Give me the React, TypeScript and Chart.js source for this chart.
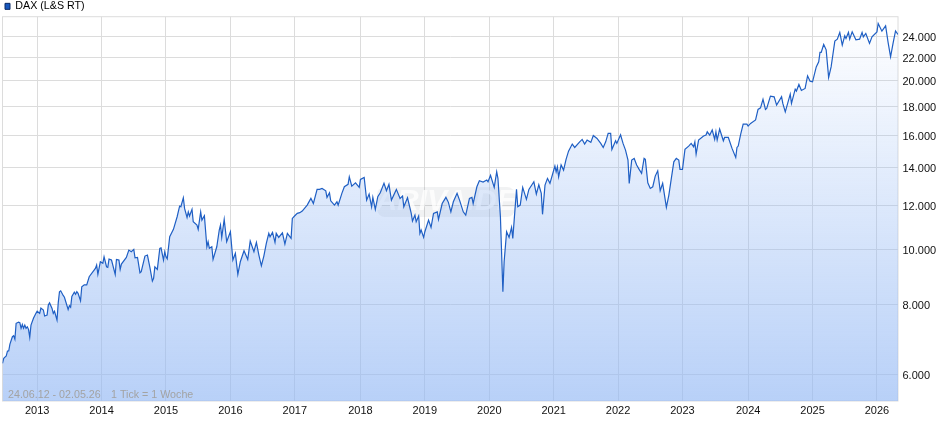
import { useEffect, useRef } from "react"
import { Chart, registerables } from "chart.js"

Chart.register(...registerables)

const seriesName = "DAX (L&S RT)"
const rangeText = "24.06.12 - 02.05.26"
const tickText = "1 Tick = 1 Woche"
const watermark = "ARIVA.DE"

// week number counted from 24.06.12
const weeks = [
  0, 1, 3, 4, 5, 6, 8, 9, 10, 11, 13, 14, 15, 16, 17, 18, 19, 20, 21, 22, 23, 25, 27, 28, 30, 31, 33, 34, 36, 37, 38, 40, 41, 42, 44, 45, 46, 47, 49, 50, 53, 54, 55, 56, 58, 59, 60, 61, 63, 64, 66, 68, 70,
  75, 76, 77, 79, 81, 82, 84, 85, 86, 88, 91, 92, 94, 95, 96, 100, 102, 104, 106, 107, 109, 111, 112, 115, 117, 119, 121, 122, 123, 125, 127, 128, 130, 131, 132, 133, 135, 138, 141, 143, 144, 146, 147, 149, 150, 151, 153, 154, 157, 158, 160, 161, 163, 165, 166, 167, 169, 170, 173, 175, 176, 177, 179, 181, 184, 186, 188, 190, 192, 195, 198,
  200, 203, 205, 207, 209, 211, 213, 215, 216, 218, 220, 221, 223, 226, 228, 230, 233, 234, 236, 238, 240, 242, 246, 249, 251, 254, 256, 258, 261, 262, 264, 265, 268, 270, 271, 274, 276, 279, 280, 282, 285, 288, 289, 292, 294, 296, 298, 299,
  301, 303, 305, 308, 310, 312, 314, 318, 321, 323, 324, 327, 330, 331, 333, 334, 336, 337, 338, 340, 341, 344, 346, 348, 351, 352, 355, 358, 360, 362, 364, 367, 369, 372, 374, 377, 379, 380, 383, 385, 388, 391, 392, 394, 397, 399,
  400, 402, 404, 405, 407, 409, 411, 412, 415, 416, 418, 420, 423, 425, 429, 431, 433, 435, 436, 438, 440, 442, 446, 447, 448, 449, 451, 453, 455, 457, 460, 462, 466, 468, 470, 472, 475, 477, 480, 483, 485, 487, 489, 491, 492, 495, 496, 499,
  501, 503, 505, 506, 508, 510, 512, 514, 516, 518, 519, 521, 523, 525, 527, 529, 531, 533, 536, 538, 540, 542, 544, 546, 547, 549, 551, 554, 556, 558, 559, 560, 562, 566, 568, 569, 571, 573, 575, 576, 577, 579, 582, 583, 586, 589, 592, 593, 594, 596, 598,
  601, 602, 604, 608, 610, 612, 614, 616, 617, 620, 623, 625, 629, 630, 632, 636, 637, 640, 641, 643, 645, 648, 650, 652, 654, 657, 659, 660, 661, 663, 665, 667, 669, 672, 674, 676, 678, 680, 681, 683, 684, 686, 689, 692, 694, 695, 697,
  700, 702, 706, 707, 710, 713, 715, 717, 719, 721, 723,
]

const closes = [
  6277, 6407, 6467, 6601, 6601, 6792, 7000, 7030, 6930, 7395, 7430, 7415, 7245, 7360, 7245, 7340, 7245, 7290, 7215, 6985, 7340, 7548, 7704, 7770, 7704, 7873, 7810, 7620, 7650, 7970, 8040, 7860, 7704, 7770, 7495, 8040, 8417, 8450, 8290, 8230, 7825, 7950, 7900, 8260, 8400, 8330, 8417, 8360, 8110, 8590, 8660, 8660, 8951,
  9264, 9391, 9040, 9518, 9456, 9714, 9325, 9303, 9623, 9585, 9040, 9610, 9585, 9226, 9429, 9692, 9985, 9917, 10012, 9676, 9692, 9097, 9136, 9743, 9784, 9303, 8795, 8892, 9325, 9226, 10056, 10080, 9585, 9917, 9714, 9632, 10545, 10870, 11447, 11960, 11925, 12374, 11846, 11417, 11680, 11481, 11797, 11213, 11064, 10870, 11680, 11290, 11493, 10122, 10331, 10056, 10122, 9610, 10122, 10840, 11064, 10519, 11323, 10331, 10765, 9585, 9851, 9040, 9518, 9957, 9610,
  10362, 9917, 10306, 9784, 9363, 9743, 10264, 10694, 10545, 10737, 10306, 10694, 10519, 10720, 10234, 10694, 10476, 11370, 11493, 11608, 11640, 11716, 12008, 12343, 12086, 12806, 12806, 12858, 12733, 12394, 12628, 12222, 12008, 12172, 12008, 12600, 12945, 13072, 13486, 12980, 13156, 12912, 13341, 13450, 12255, 12563, 11925, 12394,
  11797, 12425, 12628, 13127, 12733, 13072, 12255, 12806, 12343, 12460, 11925, 12374, 11608, 11245, 11527, 11213, 11481, 10694, 10840, 10519, 10765, 11290, 10960, 11608, 11680, 11323, 12086, 12394, 12143, 11680, 12172, 12600, 12255, 11680, 11527, 12343, 12394, 12086, 12945, 13266, 13194, 13305, 13212, 13563, 12912, 13763,
  13396, 11447, 8417, 9518, 10765, 10519, 10960, 10476, 12806, 11925, 12008, 12912, 12292, 12806, 13212, 12563, 13050, 12600, 11561, 13034, 13396, 13127, 14090, 13763, 14050, 13486, 14160, 13860, 14481, 14980, 15420, 15208, 15562, 15719, 15420, 15675, 15528, 15975, 15780, 15463, 15208, 15562, 16110, 16110, 15087, 15630, 15463, 16020,
  15463, 15045, 14440, 13127, 14440, 14540, 14148, 13900, 13675, 14540, 14480, 13156, 12858, 12945, 13524, 13821, 12733, 13127, 11896, 12513, 13396, 14340, 14540, 14440, 13900, 13900, 15087, 15294, 15463, 15252, 15562, 14802, 15675, 15940, 16005, 16218, 16005, 16335, 15720, 16218, 15675, 16400, 15630, 15845, 15845, 15150, 14597, 15208, 15294, 16066, 16736,
  16736, 16600, 16785, 17020, 17773, 17890, 18520, 17773, 17845, 18770, 18720, 18092, 18720, 18220, 17600, 18925, 18220, 19318, 19165, 19693, 19215, 19370, 20400, 19960, 19905, 21160, 21600, 22452, 22452, 23200, 22690, 20267, 21160, 23520, 23707, 24372, 23140, 24036, 23780, 24372, 23707, 24430, 23640, 23707, 24372, 23935, 24270,
  23300, 23935, 24430, 25286, 24500, 25040, 23394, 22052, 23300, 24527, 24170,
]

const yearLabels = ["2013", "2014", "2015", "2016", "2017", "2018", "2019", "2020", "2021", "2022", "2023", "2024", "2025", "2026"]
const yearWeeks = [28, 80, 132, 184, 236, 289, 341, 393, 445, 497, 549, 602, 654, 706]
const priceTicks = [6000, 8000, 10000, 12000, 14000, 16000, 18000, 20000, 22000, 24000]

const gridColor = "#dcdcdc"
const lineColor = "#1f5fc4"
const fontFamily = "'Liberation Sans', Arial, sans-serif"

const chartExtras = {
  id: "chartExtras",
  afterLayout(chart: any) {
    // legend sits higher than its layout box
    chart.legend.top = -2
    chart.legend.left = 2
  },
  beforeDatasetsDraw(chart: any) {
    const { ctx, chartArea } = chart
    ctx.save()
    ctx.strokeStyle = gridColor
    ctx.lineWidth = 1
    ctx.strokeRect(chartArea.left, chartArea.top, chartArea.width, chartArea.height)
    ctx.fillStyle = "rgba(60, 70, 90, 0.07)"
    ctx.beginPath()
    ctx.roundRect(377, 187, 138, 30, 8)
    ctx.fill()
    ctx.font = "italic bold 30px " + fontFamily
    ctx.fillStyle = "rgba(255, 255, 255, 0.75)"
    ctx.textAlign = "center"
    ctx.textBaseline = "middle"
    ctx.fillText(watermark, 446, 202)
    ctx.restore()
  },
  afterDraw(chart: any) {
    const { ctx, chartArea } = chart
    ctx.save()
    ctx.font = "10.7px " + fontFamily
    ctx.fillStyle = "#a3a3a3"
    ctx.textBaseline = "middle"
    ctx.fillText(rangeText, 8, chartArea.bottom - 6)
    ctx.fillText(tickText, 111, chartArea.bottom - 6)
    ctx.restore()
  },
}

function areaFill(context: any) {
  const { ctx, chartArea } = context.chart
  if (!chartArea) return "transparent"
  const gradient = ctx.createLinearGradient(0, chartArea.top, 0, chartArea.bottom)
  gradient.addColorStop(0, "rgba(147, 184, 244, 0)")
  gradient.addColorStop(1, "rgba(147, 184, 244, 0.66)")
  return gradient
}

export default function App() {
  const chartRef = useRef<HTMLCanvasElement>(null)
  const chartInstance = useRef<Chart | null>(null)

  useEffect(() => {
    if (!chartRef.current) return
    const ctx = chartRef.current.getContext("2d")
    if (!ctx) return

    chartInstance.current = new Chart(ctx, {
      type: "line",
      data: {
        datasets: [
          {
            label: seriesName,
            data: weeks.map((w, i) => ({ x: w, y: closes[i] })),
            borderColor: lineColor,
            borderWidth: 1.2,
            backgroundColor: areaFill,
            fill: "start",
            pointRadius: 0,
            tension: 0,
          },
        ],
      },
      options: {
        responsive: false,
        animation: false,
        layout: { padding: { left: 2.5, top: -7 } },
        plugins: {
          tooltip: { enabled: false },
          legend: {
            position: "top",
            align: "start",
            labels: {
              boxWidth: 5,
              boxHeight: 6,
              padding: 3,
              color: "#222222",
              font: { family: fontFamily, size: 10.7 },
              generateLabels: () => [
                { text: seriesName, fillStyle: "#1757bd", strokeStyle: "#0b2a66", lineWidth: 1, datasetIndex: 0 },
              ],
            },
          },
        },
        scales: {
          x: {
            type: "linear",
            min: 0,
            max: 723,
            afterBuildTicks: (scale: any) => {
              scale.ticks = yearWeeks.map((value) => ({ value }))
            },
            afterFit: (scale: any) => {
              scale.height = 34
            },
            grid: { color: gridColor, drawTicks: false },
            border: { display: false },
            ticks: {
              autoSkip: false,
              maxRotation: 0,
              padding: 3,
              color: "#111111",
              font: { family: fontFamily, size: 11 },
              callback: (value: any) => yearLabels[yearWeeks.indexOf(value)],
            },
          },
          y: {
            type: "logarithmic",
            position: "right",
            min: 5378,
            max: 25996,
            afterBuildTicks: (scale: any) => {
              scale.ticks = priceTicks.map((value) => ({ value }))
            },
            afterFit: (scale: any) => {
              scale.width = 42
            },
            grid: { color: gridColor, drawTicks: false },
            border: { display: false },
            ticks: {
              autoSkip: false,
              padding: 4.5,
              color: "#111111",
              // empty first line plus tight line height nudges the labels down a bit
              font: { family: fontFamily, size: 11, lineHeight: 0.27 },
              callback: (value: any) => ["", String(value).replace(/(\d+)(\d{3})$/, "$1.$2")],
            },
          },
        },
      },
      plugins: [chartExtras],
    })

    return () => {
      if (chartInstance.current) {
        chartInstance.current.destroy()
      }
    }
  }, [])

  return (
    <div style={{ position: "absolute", left: 0, top: 0, width: 940, height: 435 }}>
      <canvas ref={chartRef} width={940} height={435} style={{ display: "block" }} />
    </div>
  )
}
